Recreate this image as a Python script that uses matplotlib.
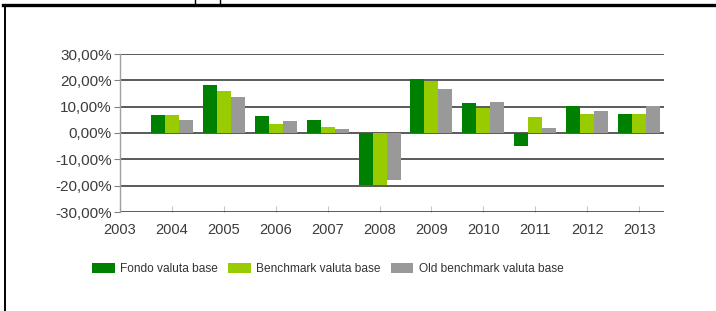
import numpy as np
import matplotlib
matplotlib.use("Agg")
import matplotlib.pyplot as plt
from matplotlib.lines import Line2D
from matplotlib.ticker import FuncFormatter

plt.rcParams['font.family'] = ['Liberation Sans', 'DejaVu Sans']

# data (percent)
years = [2004, 2005, 2006, 2007, 2008, 2009, 2010, 2011, 2012, 2013]
fondo = [7.0, 18.2, 6.6, 5.0, -19.8, 20.4, 11.3, -4.8, 10.1, 7.1]
benchmark = [7.0, 16.1, 3.4, 2.4, -19.8, 19.9, 9.5, 6.1, 7.1, 7.1]
old_benchmark = [5.0, 13.5, 4.5, 1.4, -18.0, 16.6, 11.9, 1.9, 8.2, 10.1]
series_names = ['Fondo valuta base', 'Benchmark valuta base', 'Old benchmark valuta base']
colors = ['#008000', '#99cc00', '#999999']
x_ticks = list(range(2003, 2014))
y_ticks = [-30, -20, -10, 0, 10, 20, 30]

fig = plt.figure(figsize=(7.16, 3.11), dpi=100)
ax = fig.add_axes([120 / 716, 1 - 212 / 311, 544 / 716, 158 / 311])

x = np.array(years, dtype=float)
w = 0.27
for i, (vals, name, c) in enumerate(zip([fondo, benchmark, old_benchmark], series_names, colors)):
    ax.bar(x + (i - 1) * w, vals, width=w, color=c, label=name, zorder=3, linewidth=0)

# horizontal grid lines
for yt in y_ticks:
    ax.axhline(yt, color='#2e2e2e', lw=1.1, zorder=2)

ax.set_xlim(2003, 2013.48)
ax.set_ylim(-30, 30)
ax.set_yticks(y_ticks)
ax.set_xticks(x_ticks)
ax.yaxis.set_major_formatter(FuncFormatter(lambda v, p: f'{v:.2f}%'.replace('.', ',')))

for s in ['top', 'right', 'bottom']:
    ax.spines[s].set_visible(False)
ax.spines['left'].set_color('#a0a0a0')
ax.spines['left'].set_linewidth(1.0)

ax.tick_params(axis='y', length=4, width=0.8, color='#808080', pad=2,
               labelsize=11, labelcolor='#3c3c3c')
ax.tick_params(axis='x', direction='in', length=4, width=0.8, color='#c8c8c8', pad=8,
               labelsize=10.5, labelcolor='#3c3c3c')

fig.legend(loc='center left', bbox_to_anchor=(86 / 716, 1 - 269 / 311), ncol=3,
           frameon=False, fontsize=8.6, borderpad=0, handlelength=1.9, handleheight=0.85,
           handletextpad=0.45, columnspacing=0.85, labelcolor='#333333')

# outer frame (top and left edge)
fig.add_artist(Line2D([3 / 716, 716 / 716], [1 - 5 / 311, 1 - 5 / 311], color='black', lw=2.4))
fig.add_artist(Line2D([4.5 / 716, 4.5 / 716], [0, 1 - 5 / 311], color='black', lw=1.4))
for px in [195, 220]:
    fig.add_artist(Line2D([px / 716, px / 716], [1, 1 - 5 / 311], color='black', lw=1.0))

fig.savefig('out.png', dpi=100)
